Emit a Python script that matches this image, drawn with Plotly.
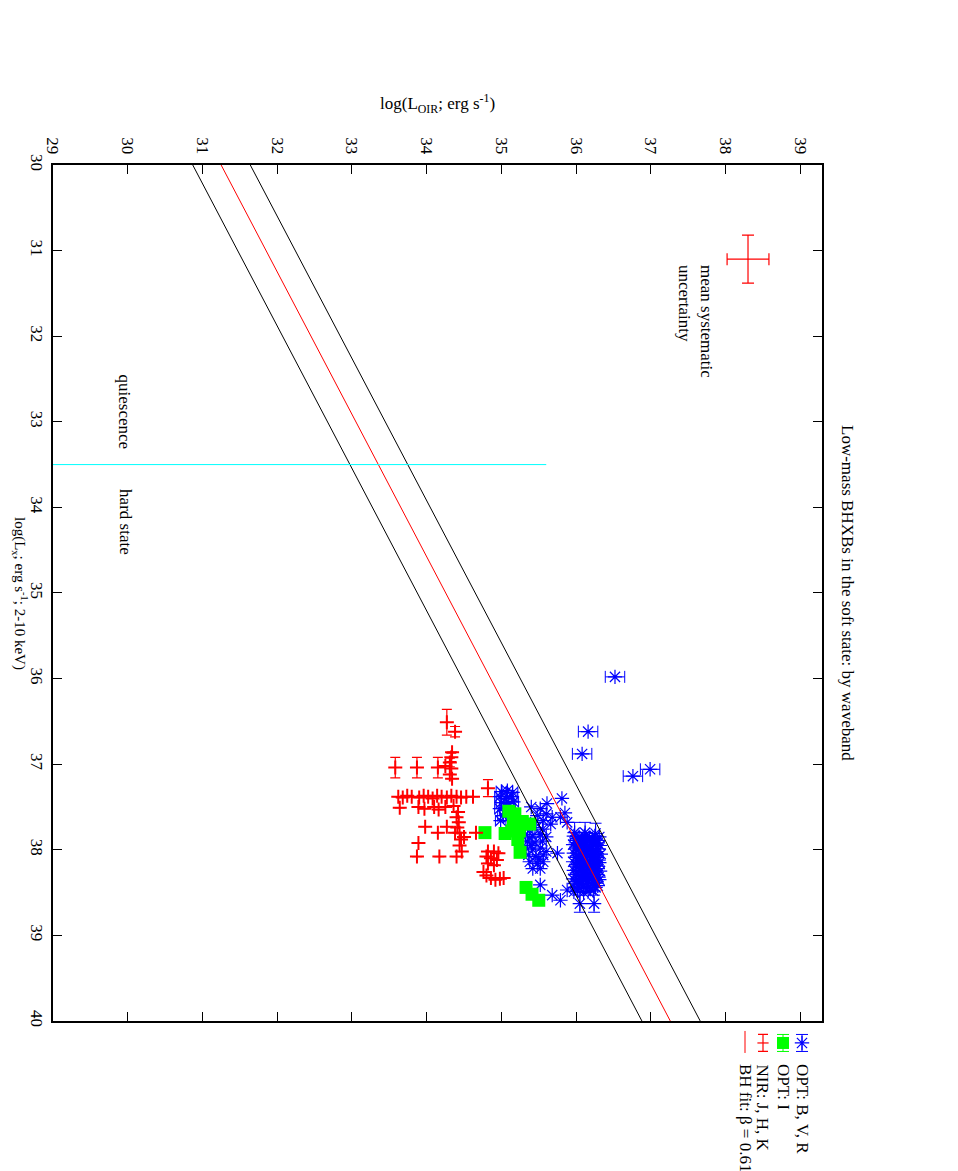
import plotly.graph_objects as go

FONT = "Liberation Serif, Times New Roman, serif"
FS = 17

# The original gnuplot page is turned by 90 degrees:
# log L_X runs down the page, log L_OIR runs across it.

# OPT: B, V, R -- points with error bars on log L_OIR  (log L_OIR, log L_X, err)
bvr_xerr_pts = [
    (36.52, 35.98, 0.13), (36.16, 36.62, 0.13), (36.08, 36.88, 0.13),
    (36.76, 37.14, 0.13), (36.99, 37.06, 0.13),
    (35.00, 37.32, 0.07), (35.08, 37.31, 0.07), (35.15, 37.33, 0.07),
    (34.98, 37.38, 0.07), (35.06, 37.40, 0.07), (35.14, 37.38, 0.07),
    (35.00, 37.45, 0.07), (35.10, 37.46, 0.07), (35.16, 37.44, 0.07),
    (34.98, 37.52, 0.07), (35.05, 37.54, 0.07), (35.12, 37.52, 0.07),
    (35.02, 37.60, 0.07), (35.10, 37.62, 0.07), (34.99, 37.66, 0.07),
]

# OPT: B, V, R -- points with error bars on log L_X
bvr_yerr_pts = [
    (35.98, 37.80, 0.12), (36.12, 37.80, 0.12), (36.26, 37.81, 0.12),
    (36.05, 38.63, 0.10), (36.24, 38.63, 0.10),
]

# OPT: B, V, R -- the rest
bvr_pts = [
    # group left of the fit band
    (35.35, 37.75), (35.45, 37.74), (35.55, 37.76), (35.32, 37.82), (35.42, 37.84),
    (35.52, 37.82), (35.60, 37.85), (35.35, 37.90), (35.45, 37.92), (35.55, 37.90),
    (35.33, 37.98), (35.42, 38.00), (35.52, 37.98), (35.60, 38.02), (35.36, 38.06),
    (35.46, 38.08), (35.56, 38.06), (35.38, 38.14), (35.48, 38.16), (35.56, 38.14),
    (35.42, 38.22), (35.52, 38.22), (35.40, 37.95), (35.50, 38.11), (35.38, 37.86),
    (35.40, 37.50), (35.52, 37.52), (35.48, 37.60), (35.60, 37.58), (35.68, 37.62),
    (35.56, 37.66), (35.66, 37.70), (35.45, 37.68),
    # scattered
    (35.81, 37.40), (35.61, 37.46), (35.85, 37.57), (35.79, 37.62), (35.88, 37.68),
    (35.75, 38.04), (35.52, 38.41), (35.68, 38.53), (35.79, 38.59), (35.88, 38.47),
    # dense block
    (35.97, 37.84), (36.04, 37.85), (36.11, 37.84), (36.18, 37.86), (36.25, 37.84), (36.31, 37.85),
    (35.99, 37.89), (36.07, 37.90), (36.14, 37.89), (36.21, 37.91), (36.29, 37.89),
    (35.96, 37.94), (36.03, 37.95), (36.10, 37.94), (36.17, 37.96), (36.24, 37.94), (36.32, 37.95),
    (36.00, 37.99), (36.08, 38.00), (36.15, 37.99), (36.22, 38.01), (36.30, 37.99),
    (35.97, 38.04), (36.05, 38.05), (36.12, 38.04), (36.19, 38.06), (36.26, 38.04), (36.33, 38.05),
    (35.99, 38.09), (36.06, 38.10), (36.13, 38.09), (36.20, 38.11), (36.28, 38.09),
    (35.96, 38.14), (36.04, 38.15), (36.11, 38.14), (36.18, 38.16), (36.25, 38.14), (36.31, 38.15),
    (36.00, 38.19), (36.07, 38.20), (36.15, 38.19), (36.22, 38.21), (36.29, 38.19),
    (35.97, 38.24), (36.05, 38.25), (36.12, 38.24), (36.19, 38.26), (36.26, 38.24), (36.32, 38.25),
    (35.99, 38.29), (36.08, 38.30), (36.14, 38.29), (36.21, 38.31), (36.28, 38.29),
    (35.96, 38.34), (36.03, 38.35), (36.10, 38.34), (36.17, 38.36), (36.24, 38.34), (36.31, 38.35),
    (36.00, 38.39), (36.07, 38.40), (36.14, 38.39), (36.21, 38.41), (36.27, 38.39),
    (35.98, 38.44), (36.05, 38.45), (36.12, 38.44), (36.19, 38.46), (36.26, 38.44),
    (36.01, 37.87), (36.08, 37.87), (36.15, 37.88), (36.22, 37.87), (36.29, 37.92),
    (36.00, 37.97), (36.07, 37.97), (36.14, 37.96), (36.21, 37.98), (36.28, 38.02),
    (36.01, 38.07), (36.08, 38.07), (36.16, 38.08), (36.23, 38.07), (36.30, 38.12),
    (36.00, 38.17), (36.08, 38.17), (36.15, 38.16), (36.22, 38.18), (36.29, 38.22),
    (36.01, 38.27), (36.09, 38.27), (36.16, 38.28), (36.23, 38.27), (36.30, 38.32),
    (36.00, 38.37), (36.08, 38.37), (36.15, 38.36), (36.22, 38.38), (36.29, 38.42),
    (36.02, 38.48), (36.16, 38.49), (36.23, 38.48), (35.97, 38.49), (36.10, 38.50),
]

# OPT: I
opt_i_pts = [
    (34.78, 37.80), (35.10, 37.55), (35.18, 37.58), (35.16, 37.66), (35.28, 37.67),
    (35.38, 37.70), (35.14, 37.78), (35.24, 37.78), (35.05, 37.81), (35.22, 37.88),
    (35.25, 38.03), (35.33, 38.44), (35.41, 38.52), (35.50, 38.59),
]

# NIR: J, H, K  (log L_OIR, log L_X, err on log L_X)
nir_pts = [
    (34.27, 36.51, 0.15), (34.38, 36.62, 0.06), (34.34, 36.86, 0.0), (34.33, 36.92, 0.05),
    (34.31, 36.98, 0.05), (34.33, 37.05, 0.0), (34.31, 37.12, 0.0), (34.34, 37.17, 0.0),
    (33.58, 37.04, 0.12), (33.87, 37.04, 0.12), (34.15, 37.04, 0.12), (34.25, 37.02, 0.0),
    (33.62, 37.38, 0.0), (33.68, 37.39, 0.0), (33.74, 37.37, 0.0), (33.80, 37.38, 0.0),
    (33.90, 37.39, 0.0), (33.96, 37.37, 0.0), (34.02, 37.38, 0.0), (34.08, 37.40, 0.0),
    (34.14, 37.37, 0.0), (34.20, 37.38, 0.0), (34.27, 37.39, 0.0), (34.33, 37.37, 0.0),
    (34.40, 37.38, 0.0), (34.46, 37.39, 0.0), (34.53, 37.38, 0.0), (34.62, 37.38, 0.0),
    (34.82, 37.28, 0.10),
    (33.64, 37.51, 0.0), (33.89, 37.50, 0.0), (33.97, 37.52, 0.0), (34.10, 37.50, 0.0),
    (34.16, 37.53, 0.0), (34.25, 37.50, 0.0), (34.36, 37.49, 0.0),
    (34.42, 37.56, 0.0), (34.40, 37.62, 0.0), (34.43, 37.68, 0.0), (34.41, 37.74, 0.0),
    (34.44, 37.80, 0.0), (34.46, 37.88, 0.0), (34.44, 37.95, 0.0), (34.47, 38.02, 0.0),
    (33.98, 37.73, 0.0), (34.27, 37.73, 0.0), (34.15, 37.80, 0.0), (34.38, 37.80, 0.0),
    (34.50, 37.85, 0.0), (34.66, 37.80, 0.0), (33.89, 37.92, 0.0),
    (33.87, 38.08, 0.0), (34.17, 38.08, 0.0), (34.40, 38.08, 0.0),
    (34.82, 38.02, 0.0), (34.90, 38.02, 0.0), (34.96, 38.04, 0.0), (34.80, 38.08, 0.0),
    (34.86, 38.10, 0.0), (34.94, 38.12, 0.0), (34.82, 38.16, 0.0), (34.90, 38.18, 0.0),
    (34.76, 38.26, 0.0), (34.80, 38.30, 0.0), (34.86, 38.33, 0.0), (34.92, 38.35, 0.0),
    (34.98, 38.34, 0.0), (35.03, 38.33, 0.0),
]

# BH fit (beta = 0.61) and its band, read at log L_X = 30 and 40
fit_lx = [30, 40]
fit_loir = [31.25, 37.26]
band_lo = [30.87, 36.88]
band_hi = [31.64, 37.66]

# quiescence / hard state boundary
boundary_lx = [33.5, 33.5]
boundary_loir = [29.0, 35.6]

# mean systematic uncertainty
sys_loir, sys_lx, sys_err_loir, sys_err_lx = 38.3, 31.1, 0.28, 0.28

xticks = list(range(29, 40))
yticks = list(range(30, 41))


def cols(pts):
    return [list(c) for c in zip(*pts)]


blue_marker = dict(symbol="asterisk-open", size=12, color="#0000ff",
                   line=dict(width=1.2, color="#0000ff"))

fig = go.Figure()

x, y, e = cols(bvr_xerr_pts)
fig.add_trace(go.Scatter(
    x=x, y=y, mode="markers", marker=blue_marker,
    error_x=dict(type="data", array=e, color="#0000ff", thickness=1, width=6),
))
x, y, e = cols(bvr_yerr_pts)
fig.add_trace(go.Scatter(
    x=x, y=y, mode="markers", marker=blue_marker,
    error_y=dict(type="data", array=e, color="#0000ff", thickness=1, width=6),
))
x, y = cols(bvr_pts)
fig.add_trace(go.Scatter(x=x, y=y, mode="markers", marker=blue_marker))

x, y = cols(opt_i_pts)
fig.add_trace(go.Scatter(
    x=x, y=y, mode="markers",
    marker=dict(symbol="square", size=13, color="#00ff00", line=dict(width=0)),
))

x, y, e = cols(nir_pts)
fig.add_trace(go.Scatter(
    x=x, y=y, mode="markers",
    marker=dict(symbol="cross-thin-open", size=10, color="#ff0000", line=dict(width=2, color="#ff0000")),
    error_y=dict(type="data", array=e, color="#ff0000", thickness=1.2, width=5),
))

fig.add_trace(go.Scatter(x=fit_loir, y=fit_lx, mode="lines", line=dict(color="#ff0000", width=1)))
fig.add_trace(go.Scatter(x=band_lo, y=fit_lx, mode="lines", line=dict(color="black", width=1)))
fig.add_trace(go.Scatter(x=band_hi, y=fit_lx, mode="lines", line=dict(color="black", width=1)))
fig.add_trace(go.Scatter(x=boundary_loir, y=boundary_lx, mode="lines", line=dict(color="#00ffff", width=1)))

fig.add_trace(go.Scatter(
    x=[sys_loir], y=[sys_lx], mode="markers",
    marker=dict(size=1, color="#ff0000"),
    error_x=dict(type="data", array=[sys_err_loir], color="#ff0000", thickness=1.2, width=6),
    error_y=dict(type="data", array=[sys_err_lx], color="#ff0000", thickness=1.2, width=6),
))

# legend samples, drawn on a hidden pixel-like axis pair under the frame
fig.add_trace(go.Scatter(
    x=[802], y=[1043], xaxis="x2", yaxis="y2", mode="markers", marker=blue_marker,
    error_y=dict(type="data", array=[8.5], color="#0000ff", thickness=1, width=6),
))
fig.add_trace(go.Scatter(
    x=[783], y=[1043], xaxis="x2", yaxis="y2", mode="markers",
    marker=dict(symbol="square", size=12, color="#00ff00"),
    error_y=dict(type="data", array=[8.5], color="#00ff00", thickness=1, width=6),
))
fig.add_trace(go.Scatter(
    x=[763], y=[1043], xaxis="x2", yaxis="y2", mode="markers",
    marker=dict(symbol="line-ew-open", size=8, color="#ff0000", line=dict(width=1.2, color="#ff0000")),
    error_y=dict(type="data", array=[8.5], color="#ff0000", thickness=1.2, width=5),
))
fig.add_trace(go.Scatter(
    x=[745, 745], y=[1031, 1053], xaxis="x2", yaxis="y2", mode="lines",
    line=dict(color="#ff0000", width=1),
))

axis_common = dict(
    showgrid=False, zeroline=False, showline=True, linecolor="black", linewidth=1.5,
    mirror="allticks", ticks="inside", ticklen=9, tickwidth=1.2, tickcolor="black",
    tickangle=90, tickfont=dict(family=FONT, size=FS, color="black"), automargin=False,
)
# page body keeps its default 8px margin, so the figure is 8px smaller each way
fig.update_layout(
    width=950, height=1163,
    margin=dict(l=45, r=136, t=157, b=5, autoexpand=False),
    paper_bgcolor="white", plot_bgcolor="white",
    showlegend=False,
    font=dict(family=FONT, size=FS, color="black"),
    xaxis=dict(range=[29, 39.29], tickvals=xticks, side="top", anchor="y",
               ticklabelstandoff=3, **axis_common),
    yaxis=dict(range=[40, 30], tickvals=yticks, domain=[0.1449, 1], anchor="x",
               ticklabelstandoff=0, **axis_common),
    xaxis2=dict(range=[53, 822], domain=[0, 1], anchor="y2", visible=False),
    yaxis2=dict(range=[1166, 1021], domain=[0, 0.1449], anchor="x2", visible=False),
)

notes = [
    dict(text="log(L<sub>OIR</sub>; erg s<sup>-1</sup>)", xref="paper", yref="paper",
         x=0.5, y=1.0619, xanchor="center", yanchor="middle", textangle=0, size=FS),
    dict(text="log(L<sub>x</sub>; erg s<sup>-1</sup>; 2-10 keV)", xref="paper", yref="paper",
         x=-0.0585, y=0.5724, xanchor="left", yanchor="middle", textangle=90, size=15),
    dict(text="Low-mass BHXBs in the soft state: by waveband", xref="paper", yref="paper",
         x=1.0338, y=0.5724, xanchor="center", yanchor="middle", textangle=90, size=FS),
    dict(text="quiescence", xref="x", yref="y", x=29.96, y=33.35,
         xanchor="center", yanchor="bottom", textangle=90, size=FS),
    dict(text="hard state", xref="x", yref="y", x=29.96, y=33.76,
         xanchor="center", yanchor="top", textangle=90, size=FS),
    dict(text="mean systematic<br>uncertainty", xref="x", yref="y", x=37.59, y=31.15,
         xanchor="center", yanchor="top", textangle=90, align="left", size=FS),
    dict(text="OPT: B, V, R", xref="x2", yref="y2", x=802, y=1062,
         xanchor="center", yanchor="top", textangle=90, size=FS),
    dict(text="OPT: I", xref="x2", yref="y2", x=783, y=1062,
         xanchor="center", yanchor="top", textangle=90, size=FS),
    dict(text="NIR: J, H, K", xref="x2", yref="y2", x=763, y=1062,
         xanchor="center", yanchor="top", textangle=90, size=FS),
    dict(text="BH fit: β = 0.61", xref="x2", yref="y2", x=745, y=1062,
         xanchor="center", yanchor="top", textangle=90, size=FS),
]
for n in notes:
    size = n.pop("size")
    fig.add_annotation(showarrow=False, font=dict(family=FONT, size=size, color="black"), **n)

fig.write_html("out.html")
